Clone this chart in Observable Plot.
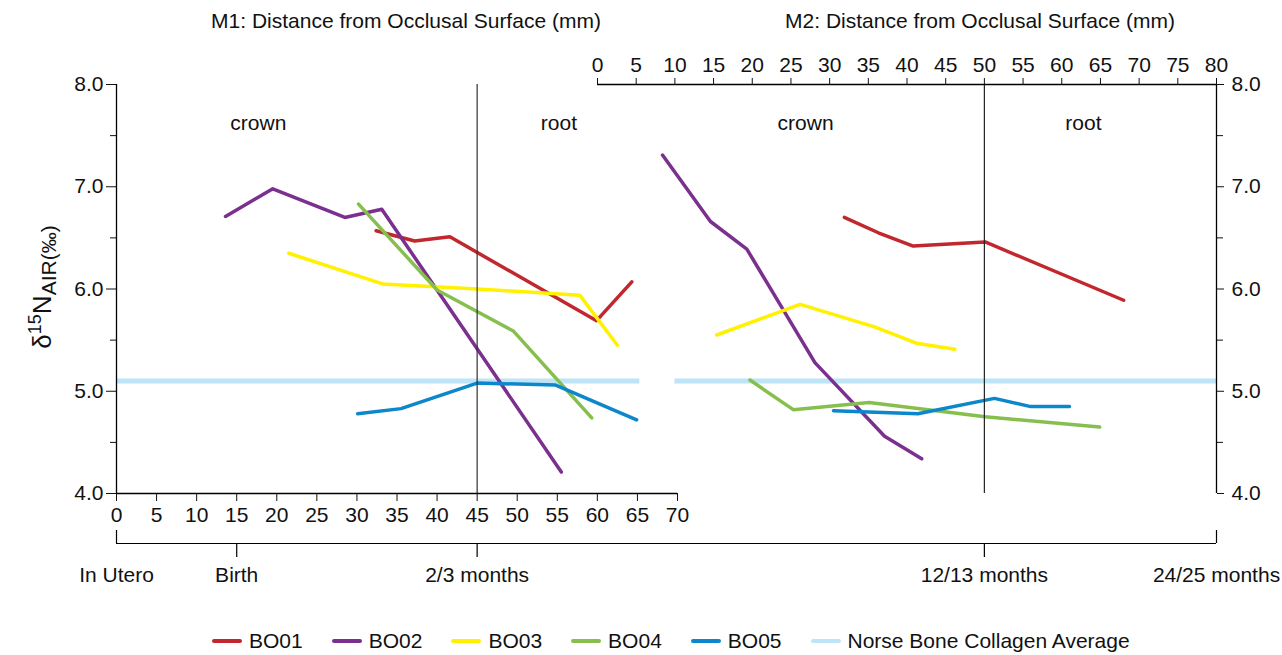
<!DOCTYPE html>
<html>
<head>
<meta charset="utf-8">
<script src="https://cdn.jsdelivr.net/npm/d3@7"></script>
<script src="https://cdn.jsdelivr.net/npm/@observablehq/plot@0.6"></script>
<style>
  body { margin: 0; background: #fff; font-family: "Liberation Sans", Arial, sans-serif; color: #111; }
  #wrap { position: relative; width: 1282px; height: 655px; overflow: hidden; background: #fff; }
  #wrap svg { position: absolute; left: 0; top: 0; }
  .title { position: absolute; top: 9px; font-size: 21px; line-height: 24px; white-space: nowrap; transform: translateX(-50%); }
  #ylab { position: absolute; left: 42px; top: 287px; transform: translate(-50%, -50%) rotate(-90deg); white-space: nowrap; font-size: 26px; line-height: 30px; }
  #ylab sup { font-size: 18px; vertical-align: 10px; }
  #ylab sub { font-size: 21px; vertical-align: -5px; }
  #legend { position: absolute; left: 212px; top: 629px; display: flex; align-items: center; font-size: 21px; line-height: 24px; }
  .item { display: flex; align-items: center; margin-right: 29px; }
  .sw { width: 30px; height: 4px; border-radius: 2px; margin-right: 7px; }
</style>
</head>
<body>
<div id="wrap"></div>
<script>
// ---------------- data ----------------
const series = ["BO01", "BO02", "BO03", "BO04", "BO05"];
const seriesColors = ["#C1272D", "#7B2F8E", "#FFF100", "#86BF4E", "#0C87CB"];
const norseLabel = "Norse Bone Collagen Average";
const norseColor = "#BEE4F7";
const norseAvg = 5.1;
const norseM1Span = [0, 65.3];
const norseM2Span = [10, 80];

// M1: distance from occlusal surface (mm) and δ15N values
const bo01M1X = [32.4, 37.2, 41.6, 59.9, 64.3];
const bo01M1Y = [6.57, 6.47, 6.51, 5.69, 6.07];
const bo02M1X = [13.6, 19.5, 28.5, 33.1, 55.5];
const bo02M1Y = [6.71, 6.98, 6.70, 6.78, 4.21];
const bo03M1X = [21.5, 33.2, 45.0, 57.8, 62.5];
const bo03M1Y = [6.35, 6.05, 6.00, 5.94, 5.45];
const bo04M1X = [30.2, 40.0, 49.5, 59.3];
const bo04M1Y = [6.83, 5.99, 5.59, 4.74];
const bo05M1X = [30.1, 35.5, 45.0, 54.8, 64.9];
const bo05M1Y = [4.78, 4.83, 5.08, 5.06, 4.72];

// M2: distance from occlusal surface (mm) and δ15N values
const bo01M2X = [31.9, 36.3, 40.8, 50.1, 68.0];
const bo01M2Y = [6.70, 6.55, 6.42, 6.46, 5.89];
const bo02M2X = [8.4, 14.6, 19.3, 28.1, 37.1, 41.9];
const bo02M2Y = [7.31, 6.66, 6.39, 5.28, 4.56, 4.34];
const bo03M2X = [15.4, 26.2, 35.8, 41.2, 46.2];
const bo03M2Y = [5.55, 5.85, 5.63, 5.47, 5.41];
const bo04M2X = [19.7, 25.3, 35.1, 50.1, 64.9];
const bo04M2Y = [5.11, 4.82, 4.89, 4.75, 4.65];
const bo05M2X = [30.5, 41.4, 51.3, 56.0, 61.0];
const bo05M2Y = [4.81, 4.78, 4.93, 4.85, 4.85];

// axes / labels
const yMajor = [4, 5, 6, 7, 8];
const yMinor = [4.5, 5.5, 6.5, 7.5];
const m1Ticks = d3.range(0, 71, 5);
const m2Ticks = d3.range(0, 81, 5);
const m1Boundary = 45;
const m2Boundary = 50;
const m1Title = "M1: Distance from Occlusal Surface (mm)";
const m2Title = "M2: Distance from Occlusal Surface (mm)";
const partLabels = ["crown", "root"];
const m1PartX = [17.7, 55.2];
const m2PartX = [26.9, 62.8];
const partY = 7.62;
const timeLabelsM1 = ["In Utero", "Birth", "2/3 months"];
const timeMmM1 = [0, 15, 45];
const timeLabelsM2 = ["12/13 months", "24/25 months"];
const timeMmM2 = [50, 80];

// ---------------- build ----------------
function rows(name, xs, ys) { return xs.map((x, i) => ({series: name, x, y: ys[i]})); }
const m1Rows = [].concat(
  rows("BO01", bo01M1X, bo01M1Y), rows("BO02", bo02M1X, bo02M1Y), rows("BO03", bo03M1X, bo03M1Y),
  rows("BO04", bo04M1X, bo04M1Y), rows("BO05", bo05M1X, bo05M1Y));
const m2Rows = [].concat(
  rows("BO01", bo01M2X, bo01M2Y), rows("BO02", bo02M2X, bo02M2Y), rows("BO03", bo03M2X, bo03M2Y),
  rows("BO04", bo04M2X, bo04M2Y), rows("BO05", bo05M2X, bo05M2Y));
const m1Parts = partLabels.map((t, i) => ({t, x: m1PartX[i]}));
const m2Parts = partLabels.map((t, i) => ({t, x: m2PartX[i]}));
const timeM1 = timeLabelsM1.map((t, i) => ({t, x: timeMmM1[i]}));
const timeM2 = timeLabelsM2.map((t, i) => ({t, x: timeMmM2[i]}));

const W = 1282, H = 600;
const frameTop = 84, frameBottom = 493;
const font = {fontFamily: "'Liberation Sans', Arial, sans-serif", fontSize: "21px", background: "transparent", color: "#111", overflow: "visible"};
const fmt = d3.format(".1f");
const tlGap = 50, tlTick = 14, tlEnd = 13, tlText = 88;
const isEnd = d => d.t === "In Utero" || d.t === "24/25 months";

const common = {
  width: W, height: H, marginTop: frameTop, marginBottom: H - frameBottom,
  y: {domain: [4, 8]},
  color: {domain: series, range: seriesColors},
  style: font
};

function timelineMarks(data, span) {
  return [
    Plot.ruleY([4], {x1: span[0], x2: span[1], dy: tlGap, stroke: "#000", strokeWidth: 1.5, shapeRendering: "crispEdges"}),
    Plot.ruleX(data.filter(d => !isEnd(d)), {x: "x", y1: 4, y2: 4, insetTop: tlGap, insetBottom: -(tlGap + tlTick), stroke: "#000", strokeWidth: 1.2}),
    Plot.ruleX(data.filter(isEnd), {x: "x", y1: 4, y2: 4, insetTop: tlGap - tlEnd, insetBottom: -tlGap, stroke: "#000", strokeWidth: 1.2}),
    Plot.text(data, {x: "x", text: "t", frameAnchor: "bottom", dy: tlText})
  ];
}

const m1 = Plot.plot({
  ...common,
  marginLeft: 116, marginRight: W - 677,
  x: {domain: [0, 70]},
  marks: [
    Plot.ruleY([norseAvg], {x1: norseM1Span[0], x2: norseM1Span[1], stroke: norseColor, strokeWidth: 5}),
    Plot.line(m1Rows, {x: "x", y: "y", z: "series", stroke: "series", strokeWidth: 3.5}),
    Plot.ruleX([m1Boundary], {stroke: "#333", strokeWidth: 1.2}),
    Plot.ruleX([0], {stroke: "#000", strokeWidth: 1.3}),
    Plot.ruleY([4], {stroke: "#000", strokeWidth: 1.3}),
    Plot.axisY(yMajor, {anchor: "left", tickSize: 10, tickPadding: 3, tickFormat: fmt, label: null}),
    Plot.axisY(yMinor, {anchor: "left", tickSize: 6, tickFormat: () => "", label: null}),
    Plot.axisX(m1Ticks, {anchor: "bottom", tickSize: 8, tickPadding: 6, label: null}),
    Plot.text(m1Parts, {x: "x", y: partY, text: "t"}),
    ...timelineMarks(timeM1, [0, 70])
  ]
});

const m2 = Plot.plot({
  ...common,
  marginLeft: 597, marginRight: W - 1216,
  x: {domain: [0, 80]},
  marks: [
    Plot.ruleY([norseAvg], {x1: norseM2Span[0], x2: norseM2Span[1], stroke: norseColor, strokeWidth: 5}),
    Plot.line(m2Rows, {x: "x", y: "y", z: "series", stroke: "series", strokeWidth: 3.5}),
    Plot.ruleX([m2Boundary], {stroke: "#222", strokeWidth: 1.2}),
    Plot.ruleX([80], {stroke: "#000", strokeWidth: 1.3}),
    Plot.ruleY([8], {stroke: "#000", strokeWidth: 1.3}),
    Plot.axisY(yMajor, {anchor: "right", tickSize: 7, tickPadding: 8, tickFormat: fmt, label: null}),
    Plot.axisY(yMinor, {anchor: "right", tickSize: 6, tickFormat: () => "", label: null}),
    Plot.axisX(m2Ticks, {anchor: "top", tickSize: 7, tickPadding: 6, label: null}),
    Plot.text(m2Parts, {x: "x", y: partY, text: "t"}),
    ...timelineMarks(timeM2, [0, 80])
  ]
});

const wrap = document.getElementById("wrap");
wrap.appendChild(m1);
wrap.appendChild(m2);

function addDiv(cls, html, styles) {
  const d = document.createElement("div");
  if (cls) d.className = cls;
  d.innerHTML = html;
  Object.assign(d.style, styles || {});
  wrap.appendChild(d);
  return d;
}
addDiv("title", m1Title, {left: "406px"});
addDiv("title", m2Title, {left: "980px"});
const yl = addDiv(null, "δ<sup>15</sup>N<sub>AIR(‰)</sub>");
yl.id = "ylab";

const legend = addDiv(null, "");
legend.id = "legend";
const entries = series.map((s, i) => ({label: s, color: seriesColors[i]})).concat([{label: norseLabel, color: norseColor}]);
for (const e of entries) {
  const it = document.createElement("div");
  it.className = "item";
  it.innerHTML = `<span class="sw" style="background:${e.color}"></span><span>${e.label}</span>`;
  legend.appendChild(it);
}
</script>
</body>
</html>
